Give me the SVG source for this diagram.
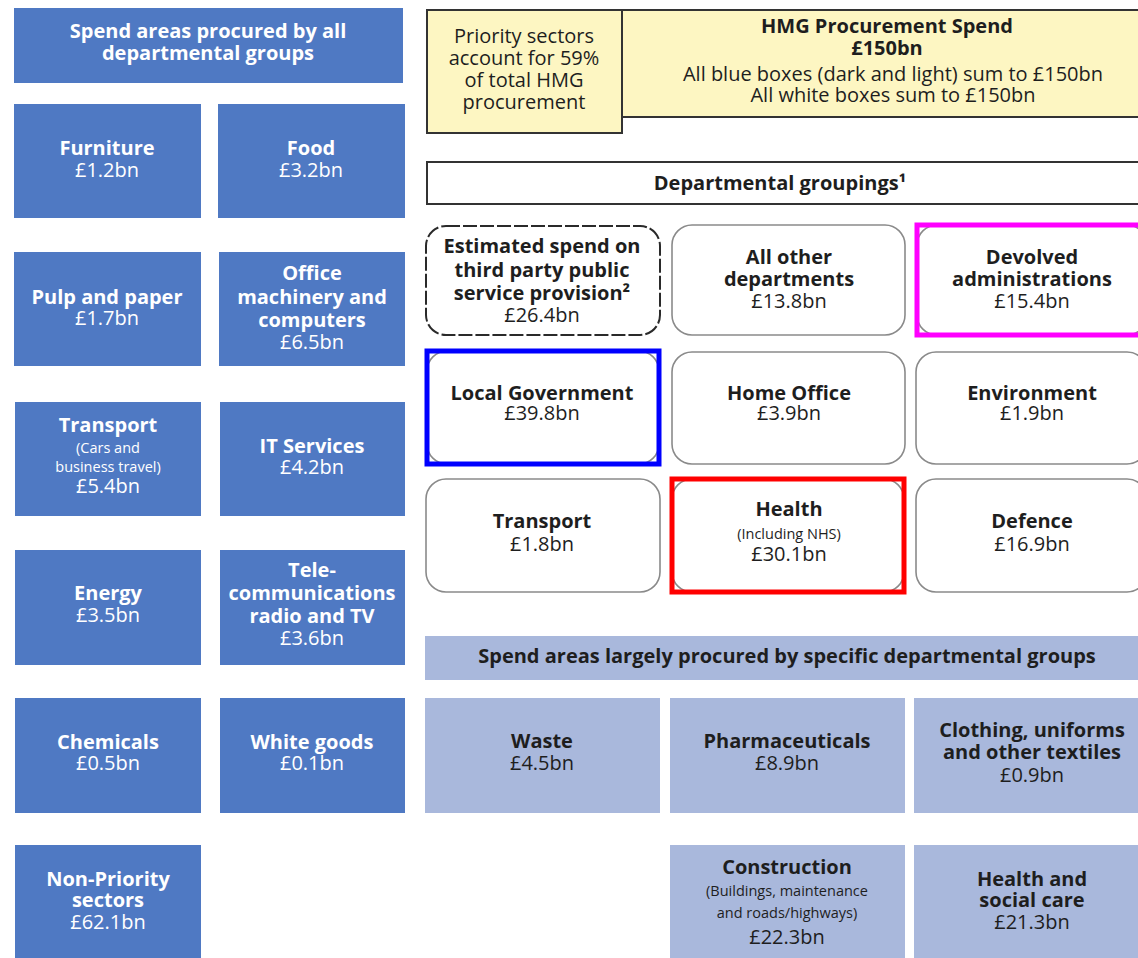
<svg xmlns="http://www.w3.org/2000/svg" width="1138" height="958" viewBox="0 0 1138 958">
<style>
text{font-family:"Open Sans","Noto Sans","Liberation Sans",sans-serif;text-anchor:middle}
.db{fill:#4f79c3}
.lb{fill:#a9b8dc}
.yl{fill:#fdf6c2;stroke:#333;stroke-width:2}
.dept{fill:#fff;stroke:#8a8a8a;stroke-width:1.6}
.w{fill:#fff;font-size:20px}
.k{fill:#1e1e1e;font-size:20px}
.b{font-weight:700}
.s{font-size:14.5px}
</style>
<rect width="1138" height="958" fill="#fff"/>

<g id="hdr-all"><rect class="db" x="14" y="8" width="389" height="75"/>
<text class="w b" x="208" y="38" font-size="21">Spend areas procured by all</text>
<text class="w b" x="208" y="60" font-size="21">departmental groups</text></g>

<g id="furniture"><rect class="db" x="14" y="104" width="187" height="114"/>
<text class="w b" x="107" y="155">Furniture</text><text class="w" x="107" y="177">£1.2bn</text></g>
<g id="food"><rect class="db" x="218" y="104" width="187" height="114"/>
<text class="w b" x="311" y="155">Food</text><text class="w" x="311" y="177">£3.2bn</text></g>

<g id="pulp"><rect class="db" x="14" y="252" width="187" height="114"/>
<text class="w b" x="107" y="304">Pulp and paper</text><text class="w" x="107" y="325">£1.7bn</text></g>
<g id="office"><rect class="db" x="219" y="252" width="186" height="114"/>
<text class="w b" x="312" y="280">Office</text><text class="w b" x="312" y="304">machinery and</text><text class="w b" x="312" y="327">computers</text><text class="w" x="312" y="349">£6.5bn</text></g>

<g id="transport-l"><rect class="db" x="15" y="402" width="186" height="114"/>
<text class="w b" x="108" y="432">Transport</text><text class="w s" x="108" y="453">(Cars and</text><text class="w s" x="108" y="472">business travel)</text><text class="w" x="108" y="493">£5.4bn</text></g>
<g id="it"><rect class="db" x="220" y="402" width="185" height="114"/>
<text class="w b" x="312" y="453">IT Services</text><text class="w" x="312" y="474">£4.2bn</text></g>

<g id="energy"><rect class="db" x="15" y="550" width="186" height="115"/>
<text class="w b" x="108" y="600">Energy</text><text class="w" x="108" y="622">£3.5bn</text></g>
<g id="telecom"><rect class="db" x="220" y="550" width="185" height="115"/>
<text class="w b" x="312" y="577">Tele-</text><text class="w b" x="312" y="600">communications</text><text class="w b" x="312" y="623">radio and TV</text><text class="w" x="312" y="645">£3.6bn</text></g>

<g id="chemicals"><rect class="db" x="15" y="698" width="186" height="115"/>
<text class="w b" x="108" y="749">Chemicals</text><text class="w" x="108" y="770">£0.5bn</text></g>
<g id="whitegoods"><rect class="db" x="220" y="698" width="185" height="115"/>
<text class="w b" x="312" y="749">White goods</text><text class="w" x="312" y="770">£0.1bn</text></g>

<g id="nonpriority"><rect class="db" x="15" y="845" width="186" height="115"/>
<text class="w b" x="108" y="886">Non-Priority</text><text class="w b" x="108" y="907">sectors</text><text class="w" x="108" y="929">£62.1bn</text></g>

<g id="hmg"><rect class="yl" x="622" y="10" width="520" height="107"/>
<text class="k b" x="887" y="33">HMG Procurement Spend</text><text class="k b" x="887" y="55">£150bn</text>
<text class="k" x="893" y="81">All blue boxes (dark and light) sum to £150bn</text><text class="k" x="893" y="102">All white boxes sum to £150bn</text></g>
<g id="priority"><rect class="yl" x="427" y="10" width="195" height="123"/>
<text class="k" x="524" y="43">Priority sectors</text><text class="k" x="524" y="65">account for 59%</text><text class="k" x="524" y="87">of total HMG</text><text class="k" x="524" y="109">procurement</text></g>

<g id="deptgroupings"><rect x="427" y="162" width="715" height="42" fill="#fff" stroke="#333" stroke-width="2"/>
<text class="k b" x="780" y="190">Departmental groupings¹</text></g>

<g id="thirdparty"><rect x="426" y="226" width="234" height="109" rx="20" fill="#fff" stroke="#2a2a2a" stroke-width="2" stroke-dasharray="14 3"/>
<text class="k b" x="542" y="253">Estimated spend on</text><text class="k b" x="542" y="277">third party public</text><text class="k b" x="542" y="300">service provision²</text><text class="k" x="542" y="322">£26.4bn</text></g>
<g id="allother"><rect class="dept" x="672" y="225" width="233" height="110" rx="20"/>
<text class="k b" x="789" y="264">All other</text><text class="k b" x="789" y="286">departments</text><text class="k" x="789" y="308">£13.8bn</text></g>
<g id="devolved"><rect class="dept" x="917" y="225" width="230" height="110" rx="20"/>
<rect x="917" y="225" width="230" height="110" fill="none" stroke="#ff00ff" stroke-width="5"/>
<text class="k b" x="1032" y="264">Devolved</text><text class="k b" x="1032" y="286">administrations</text><text class="k" x="1032" y="308">£15.4bn</text></g>

<g id="localgov"><rect class="dept" x="427" y="351" width="232" height="113" rx="20"/>
<rect x="427" y="351" width="232" height="113" fill="none" stroke="#0000ff" stroke-width="5"/>
<text class="k b" x="542" y="400">Local Government</text><text class="k" x="542" y="420">£39.8bn</text></g>
<g id="homeoffice"><rect class="dept" x="672" y="352" width="233" height="112" rx="20"/>
<text class="k b" x="789" y="400">Home Office</text><text class="k" x="789" y="420">£3.9bn</text></g>
<g id="environment"><rect class="dept" x="916" y="352" width="231" height="112" rx="20"/>
<text class="k b" x="1032" y="400">Environment</text><text class="k" x="1032" y="420">£1.9bn</text></g>

<g id="transport-d"><rect class="dept" x="426" y="479" width="234" height="113" rx="20"/>
<text class="k b" x="542" y="528">Transport</text><text class="k" x="542" y="551">£1.8bn</text></g>
<g id="health"><rect class="dept" x="672" y="479" width="232" height="113" rx="20"/>
<rect x="672" y="479" width="232" height="113" fill="none" stroke="#ff0000" stroke-width="5"/>
<text class="k b" x="789" y="516">Health</text><text class="k s" x="789" y="539">(Including NHS)</text><text class="k" x="789" y="561">£30.1bn</text></g>
<g id="defence"><rect class="dept" x="916" y="479" width="231" height="113" rx="20"/>
<text class="k b" x="1032" y="528">Defence</text><text class="k" x="1032" y="551">£16.9bn</text></g>

<g id="hdr-specific"><rect class="lb" x="425" y="636" width="720" height="44"/>
<text class="k b" x="787" y="663">Spend areas largely procured by specific departmental groups</text></g>

<g id="waste"><rect class="lb" x="425" y="698" width="235" height="115"/>
<text class="k b" x="542" y="748">Waste</text><text class="k" x="542" y="770">£4.5bn</text></g>
<g id="pharma"><rect class="lb" x="670" y="698" width="235" height="115"/>
<text class="k b" x="787" y="748">Pharmaceuticals</text><text class="k" x="787" y="770">£8.9bn</text></g>
<g id="clothing"><rect class="lb" x="914" y="698" width="230" height="115"/>
<text class="k b" x="1032" y="737">Clothing, uniforms</text><text class="k b" x="1032" y="759">and other textiles</text><text class="k" x="1032" y="782">£0.9bn</text></g>

<g id="construction"><rect class="lb" x="670" y="845" width="235" height="115"/>
<text class="k b" x="787" y="874">Construction</text><text class="k s" x="787" y="896">(Buildings, maintenance</text><text class="k s" x="787" y="918">and roads/highways)</text><text class="k" x="787" y="944">£22.3bn</text></g>
<g id="healthsocial"><rect class="lb" x="914" y="845" width="230" height="115"/>
<text class="k b" x="1032" y="886">Health and</text><text class="k b" x="1032" y="907">social care</text><text class="k" x="1032" y="929">£21.3bn</text></g>
</svg>
